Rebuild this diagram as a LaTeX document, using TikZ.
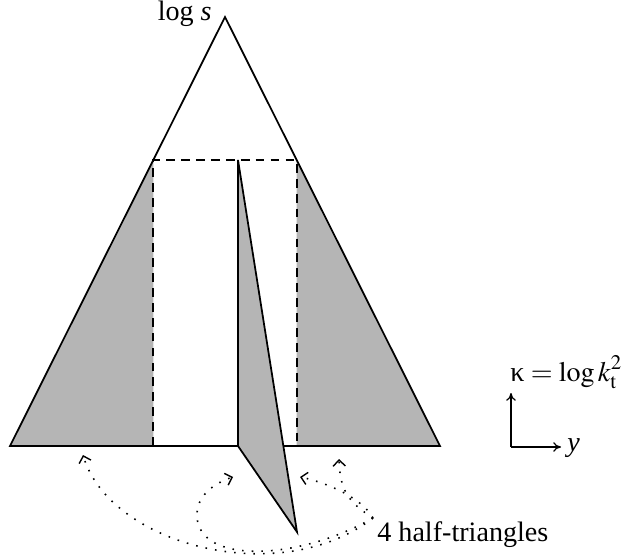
\documentclass[tikz,border=0pt]{standalone}
\usepackage{amsmath}
\usepackage{mathptmx}
\usepackage[no-math]{fontspec}
\setmainfont{Liberation Serif}
\usetikzlibrary{calc,arrows.meta}

\begin{document}
\begin{tikzpicture}[
    every node/.style={font=\fontsize{16}{19}\selectfont, inner sep=0pt},
    edge/.style={line width=1pt},
    cut/.style={line width=1.1pt, dash pattern=on 5pt off 3.5pt},
    shade/.style={fill=black!29},
    pointer/.style={line width=0.9pt, dash pattern=on 0.9pt off 4.6pt,
                    -{Straight Barb[length=3.5pt,width=7pt,line width=0.8pt]}},
    axis/.style={line width=0.7pt, -{To[length=4.5pt,width=5.5pt]}}]
    \useasboundingbox (0,0) rectangle (12.56,11.14);

    % outer triangle
    \coordinate (apex) at (4.50,10.80);
    \coordinate (bl)   at (0.20, 2.22);
    \coordinate (br)   at (8.80, 2.22);
    % corners of the dashed box
    \coordinate (tl) at ($(bl)!2/3!(apex)$);
    \coordinate (tr) at ($(br)!2/3!(apex)$);
    \coordinate (ll) at (tl |- bl);
    \coordinate (lr) at (tr |- br);
    % the folded sliver
    \coordinate (s1) at (4.76, 7.94);
    \coordinate (s2) at (4.76, 2.22);
    \coordinate (s3) at (5.94, 0.50);

    % shaded half-triangles
    \fill[shade] (tl) -- (ll) -- (bl) -- cycle;
    \fill[shade] (tr) -- (lr) -- (br) -- cycle;
    \draw[edge] (bl) -- (apex) -- (br) -- cycle;
    \filldraw[shade, edge] (s1) -- (s2) -- (s3) -- cycle;
    \draw[cut] (ll) -- (tl) -- (tr) -- (lr);

    \node[anchor=base east] (logs) at (4.24,10.72) {log \textit{s}};

    % axes
    \coordinate (o)  at (10.22,2.20);
    \coordinate (ky) at (10.22,3.28);
    \coordinate (yy) at (11.22,2.20);
    \draw[axis] (o) -- (ky);
    \draw[axis] (o) -- (yy);
    \node[anchor=base west] (kappa) at (10.20,3.50)
        {$\text{κ} = \log k_{\mathrm{t}}^{\raisebox{1.5pt}{$\scriptstyle 2$}}$};
    \node[anchor=base west] (ylab)  at (11.34,2.12) {\textit{y}};

    % label and its pointers
    \node[anchor=base west] (half) at (7.54,0.32) {4 half-triangles};
    \coordinate (src) at (7.46,0.78);
    \coordinate (t1) at (1.66,2.04);
    \coordinate (t2) at (4.66,1.60);
    \coordinate (t3) at (6.00,1.60);
    \coordinate (t4) at (6.78,1.96);
    \draw[pointer] (src) .. controls (5.60,-0.66) and (2.20,0.24) .. (t1);
    \draw[pointer] (src) .. controls (6.00,-0.06) and (4.00,-0.16) .. (3.94,0.80)
                         .. controls (3.92,1.24) and (4.30,1.48) .. (t2);
    \draw[pointer] (src) .. controls (7.20,1.24) and (6.40,1.52) .. (t3);
    \draw[pointer] (src) .. controls (6.96,1.10) and (6.80,1.34) .. (t4);
\end{tikzpicture}
\end{document}
